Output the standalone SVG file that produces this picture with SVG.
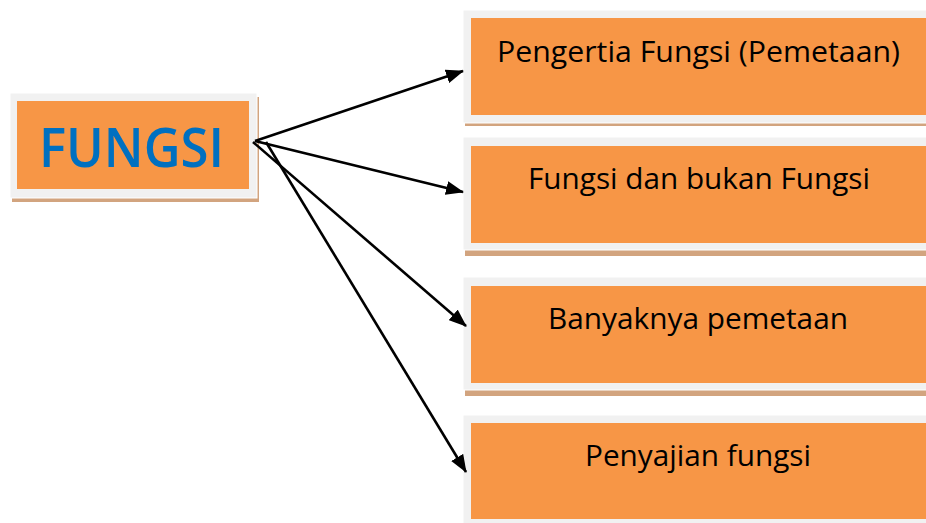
<svg xmlns="http://www.w3.org/2000/svg" width="926" height="523" viewBox="0 0 926 523">
<style>
.shadow{fill:#D2A47F}
.frame{fill:#F1F1F1;stroke:#FFFFFF;stroke-width:1}
.fill{fill:#F79646}
.lbl{font-family:"Open Sans","Liberation Sans",sans-serif;font-size:30px;fill:#000000}
.main{font-family:"Open Sans","Liberation Sans",sans-serif;font-weight:600;font-size:54px;fill:#0070C0}
.conn{stroke:#000;stroke-width:2.6;fill:none;marker-end:url(#ah)}
</style>
<defs>
<marker id="ah" markerUnits="userSpaceOnUse" markerWidth="18" markerHeight="14" refX="17" refY="7" orient="auto">
<path d="M0,0 L18,7 L0,14 z" fill="#000"/>
</marker>
</defs>
<rect width="926" height="523" fill="#FFFFFF"/>
<g id="fungsi">
<rect class="shadow" x="12" y="97" width="247" height="105"/>
<rect class="frame" x="10" y="93" width="247" height="105"/>
<rect class="fill" x="17" y="101" width="232" height="88"/>
<text class="main" x="131.5" y="167" text-anchor="middle" textLength="185" lengthAdjust="spacingAndGlyphs">FUNGSI</text>
</g>
<g id="pengertian">
<rect class="shadow" x="465" y="14" width="470" height="112"/>
<rect class="frame" x="463" y="10" width="470" height="113"/>
<rect class="fill" x="471" y="18" width="460" height="97"/>
<text class="lbl" x="698.5" y="62" text-anchor="middle" textLength="403" lengthAdjust="spacingAndGlyphs">Pengertia Fungsi (Pemetaan)</text>
</g>
<g id="fungsi-bukan">
<rect class="shadow" x="465" y="141" width="470" height="115"/>
<rect class="frame" x="463" y="137" width="470" height="113"/>
<rect class="fill" x="471" y="146" width="460" height="97"/>
<text class="lbl" x="699" y="189" text-anchor="middle" textLength="342" lengthAdjust="spacingAndGlyphs">Fungsi dan bukan Fungsi</text>
</g>
<g id="banyaknya">
<rect class="shadow" x="465" y="281" width="470" height="115"/>
<rect class="frame" x="463" y="277" width="470" height="113"/>
<rect class="fill" x="471" y="286" width="460" height="97"/>
<text class="lbl" x="698" y="329" text-anchor="middle" textLength="300" lengthAdjust="spacingAndGlyphs">Banyaknya pemetaan</text>
</g>
<g id="penyajian">
<rect class="shadow" x="465" y="419" width="470" height="112"/>
<rect class="frame" x="463" y="415" width="470" height="113"/>
<rect class="fill" x="471" y="423" width="460" height="96"/>
<text class="lbl" x="698" y="466" text-anchor="middle" textLength="226" lengthAdjust="spacingAndGlyphs">Penyajian fungsi</text>
</g>
<g id="connectors">
<line class="conn" x1="255" y1="141" x2="463" y2="71"/>
<line class="conn" x1="255" y1="141" x2="463" y2="192"/>
<line class="conn" x1="253" y1="142" x2="466" y2="326"/>
<line class="conn" x1="266" y1="142" x2="466" y2="472"/>
</g>
</svg>
